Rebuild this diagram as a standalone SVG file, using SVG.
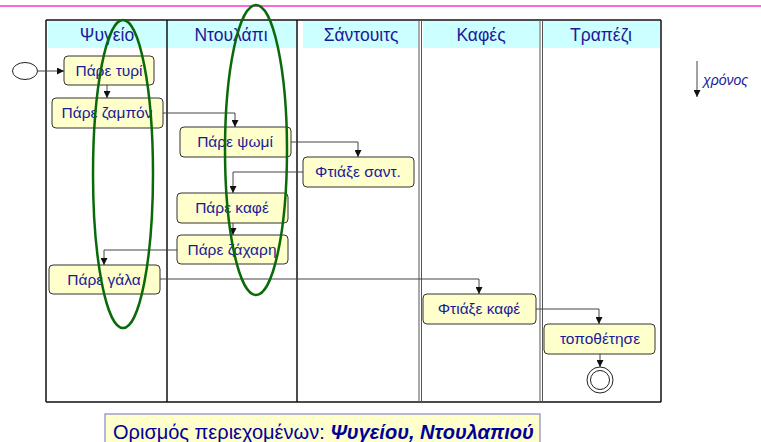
<svg xmlns="http://www.w3.org/2000/svg" width="761" height="442" viewBox="0 0 761 442">
<style>
.hdr{fill:#CCFFFF}
.ht{font-family:"Liberation Sans",Arial,sans-serif;font-size:17.5px;fill:#1A1A99;text-anchor:middle}
.box{fill:#FFFFCC;stroke:#333;stroke-width:1}
.bt{font-family:"Liberation Sans",Arial,sans-serif;font-size:15.5px;fill:#1A1A99;text-anchor:middle}
.lane{stroke:#111;stroke-width:1.5;fill:none}
.lane2{stroke:#555;stroke-width:1;fill:none}
.con{stroke:#444;stroke-width:1;fill:none;marker-end:url(#ah)}
.grn{stroke:#0A6A0A;stroke-width:2.5;fill:none}
</style>
<defs>
<marker id="ah" viewBox="0 0 10 10" refX="10" refY="5" markerWidth="7" markerHeight="7" markerUnits="userSpaceOnUse" orient="auto">
<path d="M0,0 L10,5 L0,10 z" fill="#111"/>
</marker>
</defs>
<rect width="761" height="442" fill="#fff"/>
<line x1="0" y1="6" x2="761" y2="6" stroke="#FF33CC" stroke-width="1.5"/>

<g id="lanes">
<rect class="hdr" x="48" y="21" width="119" height="27"/>
<rect class="hdr" x="168" y="21" width="128" height="27"/>
<rect class="hdr" x="303" y="21" width="115" height="27"/>
<rect class="hdr" x="423" y="21" width="116" height="27"/>
<rect class="hdr" x="543" y="21" width="117" height="27"/>
<text class="ht" x="107" y="41">Ψυγείο</text>
<text class="ht" x="231" y="41">Ντουλάπι</text>
<text class="ht" x="361" y="41">Σάντουιτς</text>
<text class="ht" x="481" y="41">Καφές</text>
<text class="ht" x="601" y="41">Τραπέζι</text>
<line class="lane" x1="46" y1="20" x2="661" y2="20"/>
<line class="lane" x1="46" y1="402" x2="661" y2="402"/>
<line class="lane" x1="46" y1="20" x2="46" y2="402"/>
<line class="lane" x1="167" y1="20" x2="167" y2="402"/>
<line class="lane" x1="297" y1="20" x2="297" y2="402"/>
<line class="lane2" x1="419" y1="20" x2="419" y2="402"/>
<line class="lane2" x1="421.5" y1="20" x2="421.5" y2="402"/>
<line class="lane2" x1="540" y1="20" x2="540" y2="402"/>
<line class="lane2" x1="542.5" y1="20" x2="542.5" y2="402"/>
<line class="lane" x1="661" y1="20" x2="661" y2="402"/>
</g>

<g id="connectors">
<path class="con" d="M38,71 H64"/>
<path class="con" d="M107,85 V98"/>
<path class="con" d="M163,113 H235 V127"/>
<path class="con" d="M291,142 H358 V157"/>
<path class="con" d="M303,172 H233 V193"/>
<path class="con" d="M233,223 V235"/>
<path class="con" d="M177,250 H104 V265"/>
<path class="con" d="M160,279 H479 V294"/>
<path class="con" d="M536,309 H599 V324"/>
<path class="con" d="M600,354 V367"/>
<path class="con" d="M697,61 V97"/>
</g>

<g id="start"><ellipse cx="25" cy="71" rx="12.5" ry="8.5" fill="#fff" stroke="#222" stroke-width="1"/></g>
<g id="n1"><rect class="box" x="64" y="56" width="90" height="29" rx="4"/><text class="bt" x="109" y="76">Πάρε τυρί</text></g>
<g id="n2"><rect class="box" x="52" y="98" width="111" height="30" rx="4"/><text class="bt" x="107" y="118">Πάρε ζαμπόν</text></g>
<g id="n3"><rect class="box" x="180" y="127" width="111" height="30" rx="4"/><text class="bt" x="235" y="147">Πάρε ψωμί</text></g>
<g id="n4"><rect class="box" x="303" y="157" width="111" height="30" rx="4"/><text class="bt" x="358" y="177">Φτιάξε σαντ.</text></g>
<g id="n5"><rect class="box" x="177" y="193" width="111" height="30" rx="4"/><text class="bt" x="232" y="213">Πάρε καφέ</text></g>
<g id="n6"><rect class="box" x="177" y="235" width="111" height="29" rx="4"/><text class="bt" x="232" y="255">Πάρε ζάχαρη</text></g>
<g id="n7"><rect class="box" x="49" y="265" width="111" height="29" rx="4"/><text class="bt" x="104" y="285">Πάρε γάλα</text></g>
<g id="n8"><rect class="box" x="423" y="294" width="113" height="30" rx="4"/><text class="bt" x="479" y="314">Φτιάξε καφέ</text></g>
<g id="n9"><rect class="box" x="544" y="324" width="111" height="30" rx="4"/><text class="bt" x="600" y="344">τοποθέτησε</text></g>
<g id="end"><circle cx="600" cy="380" r="13" fill="#fff" stroke="#222" stroke-width="1"/><circle cx="600" cy="380" r="9.5" fill="none" stroke="#222" stroke-width="1"/></g>

<g id="time"><text x="703" y="85" font-family="Liberation Sans,Arial,sans-serif" font-size="14" font-style="italic" fill="#1A1A99">χρόνος</text></g>

<g id="groupings">
<ellipse class="grn" cx="123" cy="174" rx="30" ry="154"/>
<ellipse class="grn" cx="256" cy="150" rx="31" ry="145"/>
</g>

<g id="caption">
<rect x="105" y="414" width="435" height="34" fill="#FFFFCC" stroke="#8888CC" stroke-width="1.2"/>
<text x="113" y="439" font-family="Liberation Sans,Arial,sans-serif" font-size="20" fill="#000099">Ορισμός περιεχομένων: <tspan font-weight="bold" font-style="italic">Ψυγείου, Ντουλαπιού</tspan></text>
</g>
</svg>
